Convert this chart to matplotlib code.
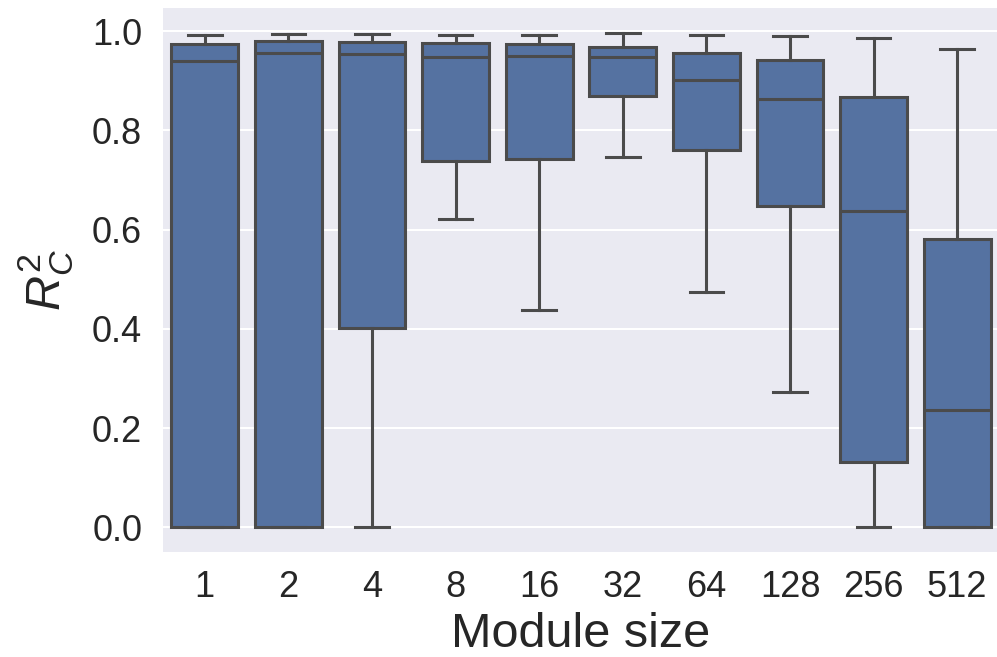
import matplotlib
matplotlib.use("Agg")
import matplotlib.pyplot as plt

# Data
module_sizes = ["1", "2", "4", "8", "16", "32", "64", "128", "256", "512"]
whisker_low = [0.000, 0.000, 0.000, 0.622, 0.439, 0.746, 0.475, 0.272, 0.000, 0.000]
q1_vals     = [0.000, 0.000, 0.402, 0.738, 0.742, 0.869, 0.760, 0.647, 0.131, 0.000]
medians     = [0.940, 0.957, 0.954, 0.949, 0.950, 0.949, 0.902, 0.863, 0.638, 0.236]
q3_vals     = [0.975, 0.980, 0.978, 0.977, 0.975, 0.969, 0.957, 0.943, 0.867, 0.582]
whisker_hi  = [0.992, 0.995, 0.995, 0.993, 0.993, 0.997, 0.992, 0.990, 0.987, 0.965]

plt.rcParams['font.family'] = ['Liberation Sans', 'DejaVu Sans']
plt.rcParams['mathtext.fontset'] = 'custom'
plt.rcParams['mathtext.rm'] = 'Liberation Sans'
plt.rcParams['mathtext.it'] = 'Liberation Sans:italic'
plt.rcParams['mathtext.bf'] = 'Liberation Sans:bold'

text_color = '#262626'
face = '#5572A1'
line = '#4B4B4B'

fig = plt.figure(figsize=(9.97, 6.57), dpi=100)
ax = fig.add_axes([163 / 997, 105 / 657, 836 / 997, 544 / 657])
ax.set_facecolor('#EAEAF2')
for s in ax.spines.values():
    s.set_visible(False)

stats = []
for i, lab in enumerate(module_sizes):
    stats.append(dict(label=lab, whislo=whisker_low[i], q1=q1_vals[i], med=medians[i],
                      q3=q3_vals[i], whishi=whisker_hi[i], fliers=[]))

lw = 2.2
ax.bxp(stats, positions=list(range(len(module_sizes))), widths=0.8,
       patch_artist=True, showfliers=False, capwidths=0.4,
       boxprops=dict(facecolor=face, edgecolor=line, linewidth=lw),
       medianprops=dict(color=line, linewidth=lw),
       whiskerprops=dict(color=line, linewidth=lw),
       capprops=dict(color=line, linewidth=lw))

ax.set_xlim(-0.5, len(module_sizes) - 0.5)
ax.set_ylim(-0.0499, 1.0469)
ax.set_yticks([0.0, 0.2, 0.4, 0.6, 0.8, 1.0])
ax.set_yticklabels(['0.0', '0.2', '0.4', '0.6', '0.8', '1.0'])
ax.set_xticks(range(len(module_sizes)))
ax.set_xticklabels(module_sizes)

ax.yaxis.grid(True, color='white', linewidth=1.5)
ax.xaxis.grid(False)
ax.set_axisbelow(True)

ax.tick_params(axis='both', length=0, labelsize=26, colors=text_color)
ax.tick_params(axis='x', pad=13)
ax.tick_params(axis='y', pad=15)

ax.set_xlabel('Module size', fontsize=35, color=text_color, labelpad=5)
ax.set_ylabel(r'$R_C^2$', fontsize=35, color=text_color)
ax.yaxis.set_label_coords(-0.105, 0.5)

fig.savefig('out.png', dpi=100)
